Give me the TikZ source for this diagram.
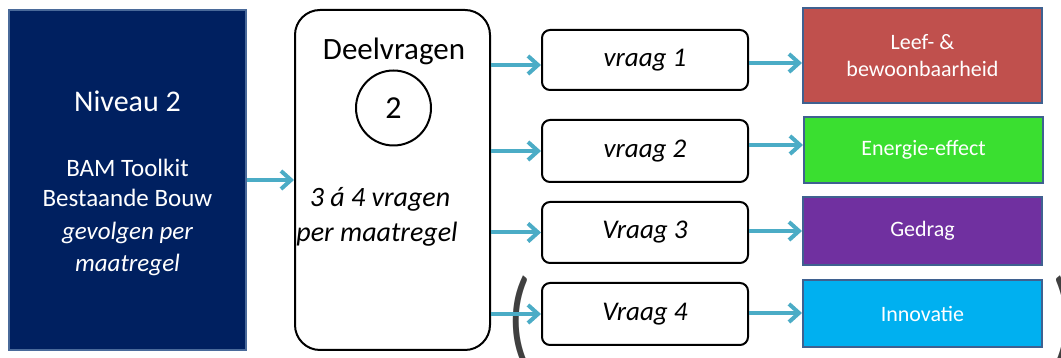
\documentclass[tikz,border=0pt]{standalone}
\usepackage{fontspec}
\setmainfont{Carlito}
\usetikzlibrary{arrows.meta}

\definecolor{navyfill}{HTML}{002060}
\definecolor{navyline}{HTML}{4A6A9A}
\definecolor{boxline}{HTML}{3F6190}
\definecolor{flowteal}{HTML}{4BACC6}
\definecolor{leefred}{HTML}{C0504D}
\definecolor{energygreen}{HTML}{3ADF30}
\definecolor{gedragpurple}{HTML}{7030A0}
\definecolor{innocyan}{HTML}{00B0F0}
\definecolor{parengray}{HTML}{404040}

\tikzset{
  flow/.style={draw=flowteal, line width=4pt,
    -{Straight Barb[length=10pt,width=18pt,line width=4pt]}},
  levelbox/.style={draw=navyline, fill=navyfill, line width=2pt,
    minimum width=237pt, minimum height=340pt, inner sep=0pt},
  qbox/.style={draw=black, line width=2pt, rounded corners=8pt,
    minimum width=206pt, inner sep=0pt, font=\fontsize{27}{30}\selectfont\itshape},
  themebox/.style={draw=boxline, line width=2pt, minimum width=239pt,
    inner sep=0pt, text=white, align=center,
    font=\fontsize{22}{27}\selectfont},
  lefttext/.style={text=white, anchor=base, inner sep=0pt,
    font=\fontsize{25}{30}\selectfont},
  midtext/.style={anchor=base, inner sep=0pt,
    font=\fontsize{28}{32}\selectfont\itshape},
  paren/.style={text=parengray, inner sep=0pt, anchor=base, xscale=0.75,
    font=\fontsize{105}{115}\selectfont}
}

\begin{document}
\begin{tikzpicture}[x=1pt,y=1pt]
\useasboundingbox (0,0) rectangle (1061,358);
\fill[white] (0,0) rectangle (1061,358);

% level block on the left
\node[levelbox] (level) at (127.5,178) {};
\node[lefttext, font=\fontsize{30}{34}\selectfont] (niv) at (127.5,246) {Niveau 2};
\node[lefttext] (bam) at (127.5,181) {BAM Toolkit};
\node[lefttext] (bb) at (127.5,151) {Bestaande Bouw};
\node[lefttext, font=\fontsize{25}{30}\selectfont\itshape] (gev) at (127.5,118) {gevolgen per};
\node[lefttext, font=\fontsize{25}{30}\selectfont\itshape] (maat) at (127.5,86) {maatregel};

% sub-question block
\node[draw=black, line width=2pt, rounded corners=25pt, minimum width=195pt,
      minimum height=340pt, inner sep=0pt] (mid) at (392.5,178) {};
\node[anchor=base, inner sep=0pt, font=\fontsize{31}{35}\selectfont] (deel) at (394,298) {Deelvragen};
\node[draw=black, line width=2pt, circle, minimum size=75pt, inner sep=0pt,
      font=\fontsize{32}{36}\selectfont] (num) at (393.5,250) {2};
\node[midtext] (q34) at (380,151) {3 á 4 vragen};
\node[midtext] (pm) at (377,116) {per maatregel};

% questions
\node[qbox, minimum height=60pt] (v1) at (645,298) {vraag 1};
\node[qbox, minimum height=62pt] (v2) at (645,207) {vraag 2};
\node[qbox, minimum height=61pt] (v3) at (645,125.5) {Vraag 3};
\node[qbox, minimum height=62pt] (v4) at (645,44) {Vraag 4};

% themes
\node[themebox, fill=leefred, minimum height=95pt] (r1) at (922.5,302.5) {Leef- \&\\bewoonbaarheid};
\node[themebox, fill=energygreen, minimum height=66pt] (r2) at (923.5,208) {Energie-effect};
\node[themebox, fill=gedragpurple, minimum height=68pt] (r3) at (922.5,127) {Gedrag};
\node[themebox, fill=innocyan, minimum height=67pt] (r4) at (922.5,44.5) {Innovatie};

% brackets around the optional fourth question
\node[paren] (lp) at (519,5) {(};
\node[paren] (rp) at (1064,5) {)};

% connectors
\draw[flow] (level.east) -- (mid.west);
\draw[flow] (mid.east |- 0,293) -- (v1.west |- 0,293);
\draw[flow] (mid.east |- v2.west) -- (v2.west);
\draw[flow] (mid.east |- v3.west) -- (v3.west);
\draw[flow] (mid.east |- v4.west) -- (v4.west);
\draw[flow] (v1.east |- 0,295) -- (r1.west |- 0,295);
\draw[flow] (v2.east |- 0,213) -- (r2.west |- 0,213);
\draw[flow] (v3.east |- 0,127) -- (r3.west |- 0,127);
\draw[flow] (v4.east |- 0,45) -- (r4.west |- 0,45);
\end{tikzpicture}
\end{document}
